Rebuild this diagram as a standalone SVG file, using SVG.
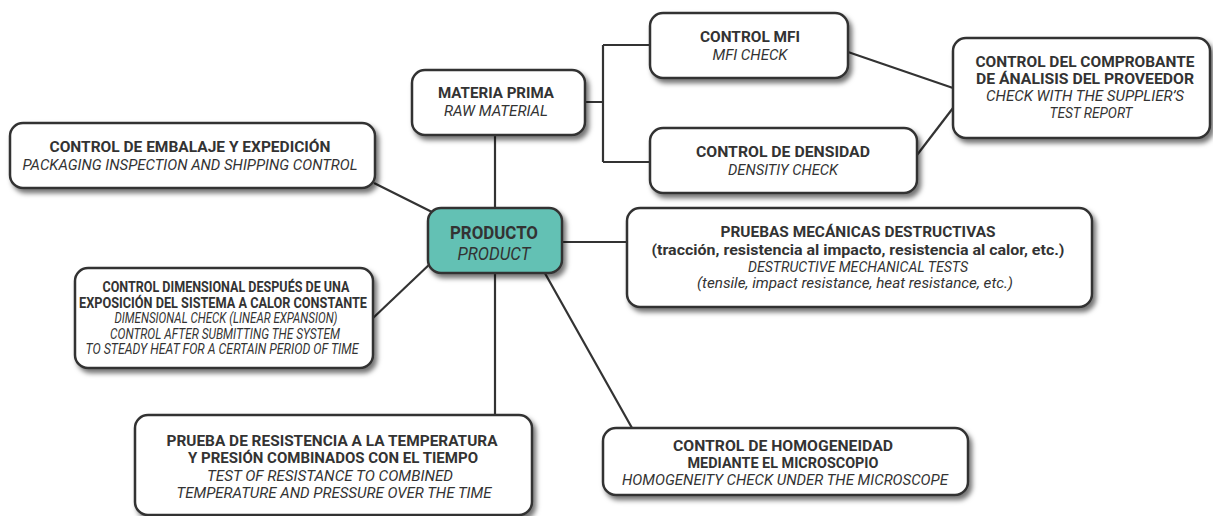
<svg xmlns="http://www.w3.org/2000/svg" width="1213" height="516" viewBox="0 0 1213 516">
<defs>
<filter id="sh" x="-10%" y="-15%" width="125%" height="140%">
<feDropShadow dx="3" dy="4" stdDeviation="2.8" flood-color="#000" flood-opacity="0.55"/>
</filter>
<style>
.box{fill:#fff;stroke:#333;stroke-width:2.5;filter:url(#sh)}
.main{fill:#63c1b4;stroke:#333;stroke-width:2.5;filter:url(#sh)}
.conn{fill:none;stroke:#333;stroke-width:2.2}
text{font-family:Roboto,"Liberation Sans",sans-serif;fill:#333;text-anchor:middle}
.b{font-weight:700;font-size:15px}
.i{font-style:italic;font-weight:400;font-size:15px}
.bs{font-weight:700;font-size:14.5px}
.is{font-style:italic;font-weight:400;font-size:14.5px}
.pb{font-weight:700;font-size:19px}
.pi{font-style:italic;font-weight:400;font-size:19px}
</style>
</defs>
<rect width="1213" height="516" fill="#fff"/>
<g id="connectors" class="conn">
<path d="M495,135 V208"/>
<path d="M585,102 H603 M603,45 V162 M603,45 H650 M603,162 H650"/>
<path d="M848,52 L953,88"/>
<path d="M917,155 L953,108"/>
<path d="M374,183 L432,212"/>
<path d="M372,319 L432,262"/>
<path d="M562,242 H627"/>
<path d="M495,273 V415"/>
<path d="M542,268 L632,428"/>
</g>
<g id="materia-prima">
<rect class="box" x="412" y="70" width="173" height="65" rx="13"/>
<text class="b" x="496" y="98" textLength="116" lengthAdjust="spacingAndGlyphs">MATERIA PRIMA</text>
<text class="i" x="496" y="116" textLength="104" lengthAdjust="spacingAndGlyphs">RAW MATERIAL</text>
</g>
<g id="control-mfi">
<rect class="box" x="650" y="13" width="198" height="65" rx="13"/>
<text class="b" x="750" y="42" textLength="100" lengthAdjust="spacingAndGlyphs">CONTROL MFI</text>
<text class="i" x="750" y="60" textLength="75" lengthAdjust="spacingAndGlyphs">MFI CHECK</text>
</g>
<g id="control-densidad">
<rect class="box" x="650" y="128" width="267" height="65" rx="13"/>
<text class="b" x="783" y="157" textLength="174" lengthAdjust="spacingAndGlyphs">CONTROL DE DENSIDAD</text>
<text class="i" x="783" y="175" textLength="110" lengthAdjust="spacingAndGlyphs">DENSITIY CHECK</text>
</g>
<g id="control-comprobante">
<rect class="box" x="953" y="38" width="257" height="100" rx="13"/>
<text class="b" x="1085" y="67" textLength="219" lengthAdjust="spacingAndGlyphs">CONTROL DEL COMPROBANTE</text>
<text class="b" x="1085" y="84" textLength="218" lengthAdjust="spacingAndGlyphs">DE ÁNALISIS DEL PROVEEDOR</text>
<text class="i" x="1085" y="101" textLength="198" lengthAdjust="spacingAndGlyphs">CHECK WITH THE SUPPLIER’S</text>
<text class="i" x="1091" y="118" textLength="83" lengthAdjust="spacingAndGlyphs">TEST REPORT</text>
</g>
<g id="control-embalaje">
<rect class="box" x="10" y="123" width="365" height="65" rx="13"/>
<text class="b" x="190" y="152" textLength="281" lengthAdjust="spacingAndGlyphs">CONTROL DE EMBALAJE Y EXPEDICIÓN</text>
<text class="i" x="190" y="170" textLength="335" lengthAdjust="spacingAndGlyphs">PACKAGING INSPECTION AND SHIPPING CONTROL</text>
</g>
<g id="producto">
<rect class="main" x="428" y="208" width="134" height="65" rx="13"/>
<text class="pb" x="494" y="239" textLength="88" lengthAdjust="spacingAndGlyphs">PRODUCTO</text>
<text class="pi" x="494" y="260" textLength="73" lengthAdjust="spacingAndGlyphs">PRODUCT</text>
</g>
<g id="pruebas-mecanicas">
<rect class="box" x="627" y="208" width="465" height="99" rx="13"/>
<text class="b" x="858" y="237" textLength="275" lengthAdjust="spacingAndGlyphs">PRUEBAS MECÁNICAS DESTRUCTIVAS</text>
<text class="b" x="858" y="255" textLength="413" lengthAdjust="spacingAndGlyphs">(tracción, resistencia al impacto, resistencia al calor, etc.)</text>
<text class="i" x="858" y="272" textLength="220" lengthAdjust="spacingAndGlyphs">DESTRUCTIVE MECHANICAL TESTS</text>
<text class="i" x="855" y="288" textLength="316" lengthAdjust="spacingAndGlyphs">(tensile, impact resistance, heat resistance, etc.)</text>
</g>
<g id="control-dimensional">
<rect class="box" x="75" y="268" width="298" height="100" rx="13"/>
<text class="bs" x="226" y="292" textLength="247" lengthAdjust="spacingAndGlyphs">CONTROL DIMENSIONAL DESPUÉS DE UNA</text>
<text class="bs" x="223" y="307.5" textLength="288" lengthAdjust="spacingAndGlyphs">EXPOSICIÓN DEL SISTEMA A CALOR CONSTANTE</text>
<text class="is" x="226" y="323" textLength="223" lengthAdjust="spacingAndGlyphs">DIMENSIONAL CHECK (LINEAR EXPANSION)</text>
<text class="is" x="225" y="338.5" textLength="230" lengthAdjust="spacingAndGlyphs">CONTROL AFTER SUBMITTING THE SYSTEM</text>
<text class="is" x="222" y="354" textLength="273" lengthAdjust="spacingAndGlyphs">TO STEADY HEAT FOR A CERTAIN PERIOD OF TIME</text>
</g>
<g id="prueba-resistencia">
<rect class="box" x="135" y="415" width="397" height="100" rx="13"/>
<text class="b" x="332" y="446" textLength="331" lengthAdjust="spacingAndGlyphs">PRUEBA DE RESISTENCIA A LA TEMPERATURA</text>
<text class="b" x="333" y="463" textLength="290" lengthAdjust="spacingAndGlyphs">Y PRESIÓN COMBINADOS CON EL TIEMPO</text>
<text class="i" x="330" y="481" textLength="246" lengthAdjust="spacingAndGlyphs">TEST OF RESISTANCE TO COMBINED</text>
<text class="i" x="334" y="498" textLength="315" lengthAdjust="spacingAndGlyphs">TEMPERATURE AND PRESSURE OVER THE TIME</text>
</g>
<g id="control-homogeneidad">
<rect class="box" x="603" y="428" width="365" height="67" rx="13"/>
<text class="b" x="783" y="451" textLength="220" lengthAdjust="spacingAndGlyphs">CONTROL DE HOMOGENEIDAD</text>
<text class="b" x="783" y="468" textLength="191" lengthAdjust="spacingAndGlyphs">MEDIANTE EL MICROSCOPIO</text>
<text class="i" x="785" y="485" textLength="326" lengthAdjust="spacingAndGlyphs">HOMOGENEITY CHECK UNDER THE MICROSCOPE</text>
</g>
</svg>
